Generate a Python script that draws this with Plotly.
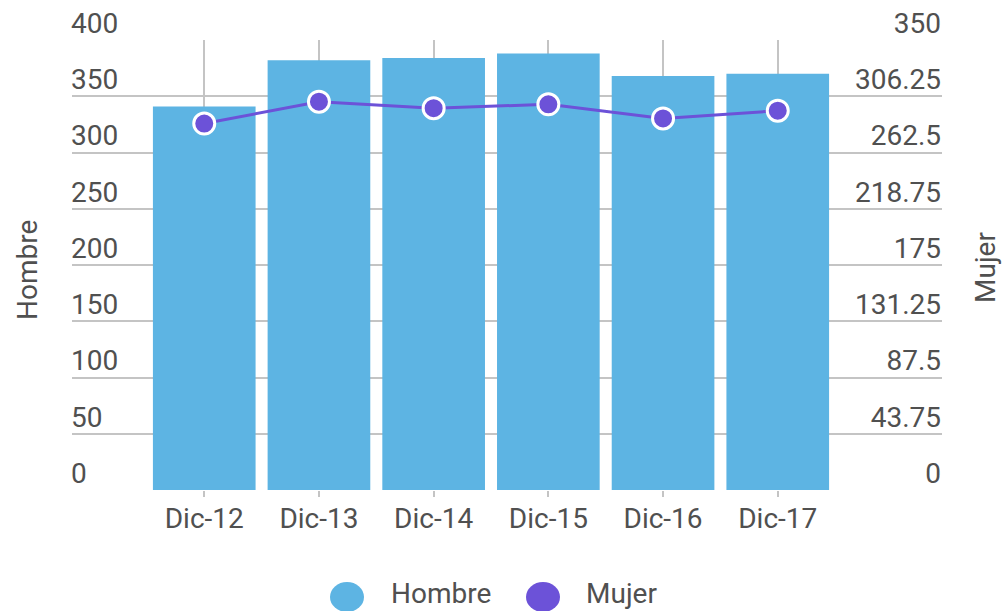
import plotly.graph_objects as go

categories = ["Dic-12", "Dic-13", "Dic-14", "Dic-15", "Dic-16", "Dic-17"]
hombre = [341, 382, 384, 388, 368, 370]
mujer = [285, 302, 297, 300, 289, 295]

left_ticks = [0, 50, 100, 150, 200, 250, 300, 350, 400]
right_ticks = [0, 43.75, 87.5, 131.25, 175, 218.75, 262.5, 306.25, 350]
right_ticktext = ["0", "43.75", "87.5", "131.25", "175", "218.75", "262.5", "306.25", "350"]

BAR = "#5db4e3"
PURPLE = "#6c52d8"
TXT = "#505050"
GRID = "#c4c4c4"
FONT = "Roboto"
FS = 28

fig = go.Figure()
fig.add_trace(go.Bar(x=categories, y=hombre, name="Hombre", marker=dict(color=BAR, line=dict(width=0)),
                     showlegend=False, yaxis="y"))
fig.add_trace(go.Scatter(x=categories, y=mujer, name="Mujer", mode="lines+markers", yaxis="y2",
                         line=dict(color=PURPLE, width=3),
                         marker=dict(color=PURPLE, size=21, line=dict(color="white", width=3)),
                         showlegend=False))

W, H = 1003, 611
L, R, T, B = 72, 61, 40, 121
pw, ph = W - L - R, H - T - B

def px(x):
    return (x - L) / pw

def py(y):
    return (H - B - y) / ph

shapes = []
annotations = []
# legend (manual, large circles)
for cx, cy, col in [(347, 597, BAR), (543, 597, PURPLE)]:
    shapes.append(dict(type="circle", xref="paper", yref="paper", xsizemode="pixel", ysizemode="pixel",
                       xanchor=px(cx), yanchor=py(cy), x0=-17, x1=17, y0=-15, y1=15,
                       fillcolor=col, line=dict(width=0)))
for tx, label in [(389, "Hombre"), (584, "Mujer")]:
    annotations.append(dict(xref="paper", yref="paper", x=px(tx), y=py(593), text=label, showarrow=False,
                            xanchor="left", yanchor="middle", font=dict(family=FONT, size=FS, color=TXT)))
annotations.append(dict(xref="paper", yref="paper", x=px(27), y=py(270), text="Hombre", showarrow=False,
                        textangle=-90, xanchor="center", yanchor="middle",
                        font=dict(family=FONT, size=FS, color=TXT)))
annotations.append(dict(xref="paper", yref="paper", x=px(985), y=py(268), text="Mujer", showarrow=False,
                        textangle=-90, xanchor="center", yanchor="middle",
                        font=dict(family=FONT, size=FS, color=TXT)))

fig.update_layout(
    template="none",
    width=W, height=H,
    margin=dict(l=L, r=R, t=T, b=B, pad=0, autoexpand=False),
    paper_bgcolor="white", plot_bgcolor="white",
    bargap=0.105,
    font=dict(family=FONT, size=FS, color=TXT),
    xaxis=dict(type="category", range=[-1.153, 6.432], showgrid=True, gridcolor=GRID, gridwidth=2,
               ticks="outside", ticklen=6, tickcolor=GRID, tickwidth=2, showline=False, zeroline=False,
               automargin=False,
               tickfont=dict(family=FONT, size=FS, color=TXT), ticklabelstandoff=-3),
    yaxis=dict(range=[0, 400], tickvals=left_ticks, showgrid=True, gridcolor=GRID, gridwidth=2,
               zeroline=False, showline=False, ticks="", ticklabelposition="inside",
               ticklabelshift=-17, ticklabelstandoff=-4, ticklabeloverflow="allow", automargin=False,
               tickfont=dict(family=FONT, size=FS, color=TXT)),
    yaxis2=dict(range=[0, 350], tickvals=right_ticks, ticktext=right_ticktext, overlaying="y", side="right",
                showgrid=False, zeroline=False, showline=False, ticks="", ticklabelposition="inside",
                ticklabelshift=-17, ticklabelstandoff=-2, ticklabeloverflow="allow", automargin=False,
                tickfont=dict(family=FONT, size=FS, color=TXT)),
    shapes=shapes,
    annotations=annotations,
    showlegend=False,
)

fig.write_html("out.html", config={"displayModeBar": False},
               post_script="document.body.style.margin='0';document.body.style.overflow='hidden';")
